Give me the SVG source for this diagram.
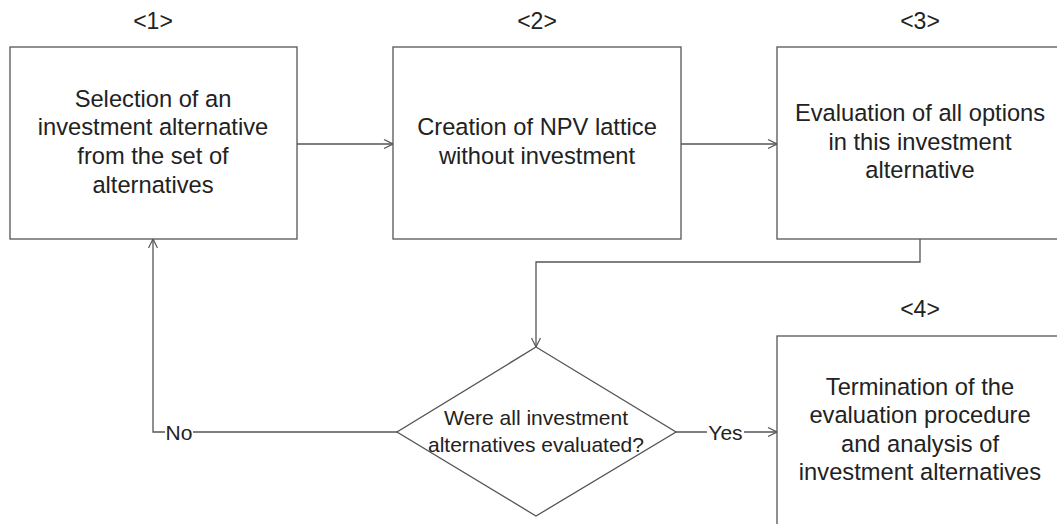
<svg xmlns="http://www.w3.org/2000/svg" width="1057" height="524" viewBox="0 0 1057 524">
<style>
.box{fill:#fff;stroke:#555;stroke-width:1.3}
.ln{fill:none;stroke:#555;stroke-width:1.3}
.t{font-family:"Liberation Sans",Arial,sans-serif;font-size:23.7px;fill:#222;text-anchor:middle}
.s{font-family:"Liberation Sans",Arial,sans-serif;font-size:21px;fill:#222;text-anchor:middle}
.h{font-family:"Liberation Sans",Arial,sans-serif;font-size:23px;fill:#222;text-anchor:middle}
</style>
<defs>
<marker id="arr" viewBox="0 0 10 10" refX="10" refY="5" markerWidth="10" markerHeight="10" markerUnits="userSpaceOnUse" orient="auto">
<path d="M1,0.5 L10,5 L1,9.5" fill="none" stroke="#555" stroke-width="1.2"/>
</marker>
</defs>
<rect width="1057" height="524" fill="#fff"/>
<g id="connectors">
<path class="ln" d="M297,144 H393" marker-end="url(#arr)"/>
<path class="ln" d="M681,144 H777" marker-end="url(#arr)"/>
<path class="ln" d="M920,239 V262 H536 V347" marker-end="url(#arr)"/>
<path class="ln" d="M676,432 H707 M744,432 H777" marker-end="url(#arr)"/>
<text class="s" x="725.5" y="439.5">Yes</text>
<path class="ln" d="M397,432 H193 M165,432 H153 V239" marker-end="url(#arr)"/>
<text class="s" x="179" y="439.5">No</text>
</g>
<g id="node1">
<text class="h" x="153" y="29">&lt;1&gt;</text>
<rect class="box" x="10" y="47" width="287" height="192"/>
<text class="t" x="153" y="107">Selection of an</text>
<text class="t" x="153" y="135">investment alternative</text>
<text class="t" x="153" y="164">from the set of</text>
<text class="t" x="153" y="193">alternatives</text>
</g>
<g id="node2">
<text class="h" x="537" y="29">&lt;2&gt;</text>
<rect class="box" x="393" y="47" width="288" height="192"/>
<text class="t" x="537" y="135">Creation of NPV lattice</text>
<text class="t" x="537" y="164">without investment</text>
</g>
<g id="node3">
<text class="h" x="920" y="29">&lt;3&gt;</text>
<rect class="box" x="777" y="47" width="300" height="192"/>
<text class="t" x="920" y="121">Evaluation of all options</text>
<text class="t" x="920" y="150">in this investment</text>
<text class="t" x="920" y="178">alternative</text>
</g>
<g id="decision">
<polygon class="box" points="536,347 676,432 536,516 397,432"/>
<text class="s" x="536" y="425">Were all investment</text>
<text class="s" x="536" y="452">alternatives evaluated?</text>
</g>
<g id="node4">
<text class="h" x="920" y="317">&lt;4&gt;</text>
<rect class="box" x="777" y="336" width="300" height="200"/>
<text class="t" x="920" y="395">Termination of the</text>
<text class="t" x="920" y="423">evaluation procedure</text>
<text class="t" x="920" y="452">and analysis of</text>
<text class="t" x="920" y="480">investment alternatives</text>
</g>
</svg>
